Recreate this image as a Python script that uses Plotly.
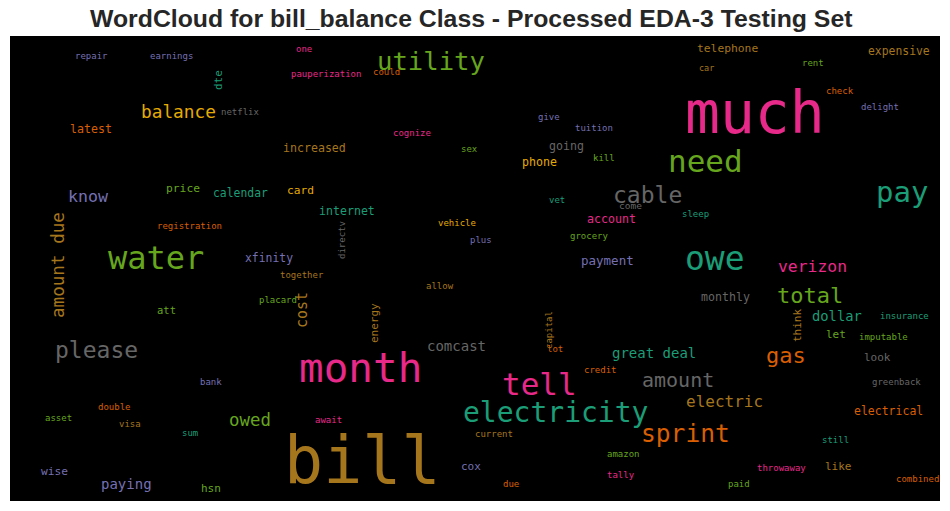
import plotly.graph_objects as go

# words and their weights (rendered font size in px)
words = ["much", "bill", "month", "water", "owe", "need", "pay", "utility", "electricity",
         "tell", "cable", "sprint", "total", "please", "gas", "amount", "balance", "verizon",
         "electric", "owed", "amount due", "cost", "know", "great deal", "dollar", "comcast",
         "paying", "payment", "increased", "phone", "going", "latest", "account", "monthly",
         "price", "calendar", "card", "internet", "xfinity", "att", "hsn", "wise", "look",
         "like", "let", "cox", "think", "dte", "energy", "expensive", "telephone", "electrical",
         "one", "pauperization", "could", "repair", "earnings", "netflix", "cognize", "sex",
         "give", "tuition", "kill", "car", "rent", "check", "delight", "registration", "vet",
         "come", "sleep", "vehicle", "plus", "grocery", "directv", "together", "allow",
         "placard", "insurance", "imputable", "capital", "lot", "credit", "bank", "double",
         "asset", "visa", "sum", "await", "current", "amazon", "tally", "due", "paid",
         "throwaway", "still", "combined", "greenback"]
weights = [58, 65, 41, 32, 33, 31, 29, 25.6, 28,
           31, 23, 24.6, 22, 23, 22, 20, 17.8, 16.4,
           16, 17.4, 17.6, 15, 16.6, 14, 13.8, 14,
           14, 12.5, 11.6, 11.6, 11.6, 11.6, 11.6, 11.6,
           11.3, 11.4, 11.2, 11.6, 11.4, 10.5, 11, 11.2, 11,
           11, 11, 11, 11, 11, 11, 11.4, 11.3, 11.5,
           9, 9, 9, 9, 9, 9, 9, 9,
           9, 9, 9, 8.5, 9, 9, 9, 9, 9,
           9.5, 9, 9, 9, 9, 9, 9, 9,
           9, 9, 9, 9, 9, 9, 9, 9,
           9, 9, 9, 9, 9, 9, 9, 9, 9,
           9, 9, 9, 9]

# layout of the cloud (pixel positions inside the canvas)
pos_x = [755, 362, 360, 156, 715, 705, 902, 431, 555,
         539, 647, 685, 810, 96, 786, 678, 178, 812,
         724, 250, 58, 302, 88, 654, 837, 456,
         126, 607, 314, 539, 566, 91, 611, 725,
         183, 240, 300, 347, 269, 166, 211, 54, 877,
         838, 836, 471, 797, 218, 374, 899, 727, 888,
         304, 326, 386, 91, 171, 240, 412, 469,
         549, 594, 604, 706, 813, 840, 880, 189, 557,
         630, 695, 457, 481, 589, 342, 302, 440,
         278, 904, 883, 549, 555, 600, 211, 114,
         58, 130, 190, 328, 494, 623, 621, 511, 739,
         781, 835, 917, 896]
pos_y = [113, 460, 368, 258, 258, 161, 192, 61, 412,
         384, 195, 433, 295, 350, 355, 380, 111, 266,
         401, 420, 265, 310, 196, 353, 316, 346,
         484, 260, 148, 162, 146, 129, 219, 297,
         188, 193, 190, 211, 258, 310, 488, 471, 357,
         466, 334, 466, 326, 80, 323, 51, 48, 411,
         49, 74, 72, 56, 56, 112, 133, 149,
         117, 128, 158, 68, 63, 91, 107, 226, 200,
         205, 214, 223, 240, 236, 240, 275, 286,
         300, 316, 337, 330, 349, 370, 382, 407,
         418, 424, 433, 420, 434, 454, 475, 484, 484,
         468, 440, 479, 382]
rot = {"amount due": -90, "cost": -90, "think": -90, "dte": -90, "energy": -90,
       "directv": -90, "capital": -90}

PINK, BROWN, GREEN, TEAL, GREY, ORANGE, YELLOW, PURPLE = (
    "#e7298a", "#a6761d", "#66a61e", "#1b9e77", "#666666", "#d95f02", "#e6ab02", "#7570b3")
colors = [PINK, BROWN, PINK, GREEN, TEAL, GREEN, TEAL, GREEN, TEAL,
          PINK, GREY, ORANGE, GREEN, GREY, ORANGE, GREY, YELLOW, PINK,
          BROWN, GREEN, BROWN, BROWN, PURPLE, TEAL, TEAL, GREY,
          PURPLE, PURPLE, BROWN, YELLOW, GREY, ORANGE, PINK, GREY,
          GREEN, TEAL, YELLOW, TEAL, PURPLE, GREEN, GREEN, PURPLE, GREY,
          BROWN, GREEN, PURPLE, BROWN, TEAL, BROWN, BROWN, BROWN, ORANGE,
          PINK, PINK, ORANGE, PURPLE, PURPLE, GREY, PINK, GREEN,
          PURPLE, PURPLE, GREEN, BROWN, GREEN, ORANGE, PURPLE, ORANGE, TEAL,
          GREY, TEAL, YELLOW, PURPLE, GREEN, GREY, BROWN, BROWN,
          GREEN, TEAL, GREEN, BROWN, ORANGE, ORANGE, PURPLE, ORANGE,
          GREEN, BROWN, TEAL, PINK, BROWN, GREEN, PINK, ORANGE, GREEN,
          PINK, TEAL, ORANGE, GREY]

title_text = "WordCloud for bill_balance Class - Processed EDA-3 Testing Set"

fig = go.Figure()
fig.add_trace(go.Scatter(x=[10, 940], y=[36, 501], mode="markers",
                         marker=dict(size=0.1, opacity=0), hoverinfo="skip", showlegend=False))

annotations = []
for w, s, x, y, c in zip(words, weights, pos_x, pos_y, colors):
    annotations.append(dict(x=x, y=y, xref="x", yref="y", text=w, showarrow=False,
                            xanchor="center", yanchor="middle", textangle=rot.get(w, 0),
                            font=dict(family="DejaVu Sans Mono", size=s, color=c)))
annotations.append(dict(x=471 / 950, y=1 + (36 - 19) / 465, xref="paper", yref="paper",
                        text="<b>" + title_text + "</b>",
                        showarrow=False, xanchor="center", yanchor="middle",
                        font=dict(family="Liberation Sans, Arial", size=24.8, color="#262626")))

fig.update_layout(
    width=950, height=511,
    margin=dict(l=10, r=10, t=36, b=10),
    paper_bgcolor="white", plot_bgcolor="black",
    xaxis=dict(range=[10, 940], visible=False, fixedrange=True),
    yaxis=dict(range=[501, 36], visible=False, fixedrange=True),
    annotations=annotations,
    showlegend=False,
)

fig.write_html("out.html")
